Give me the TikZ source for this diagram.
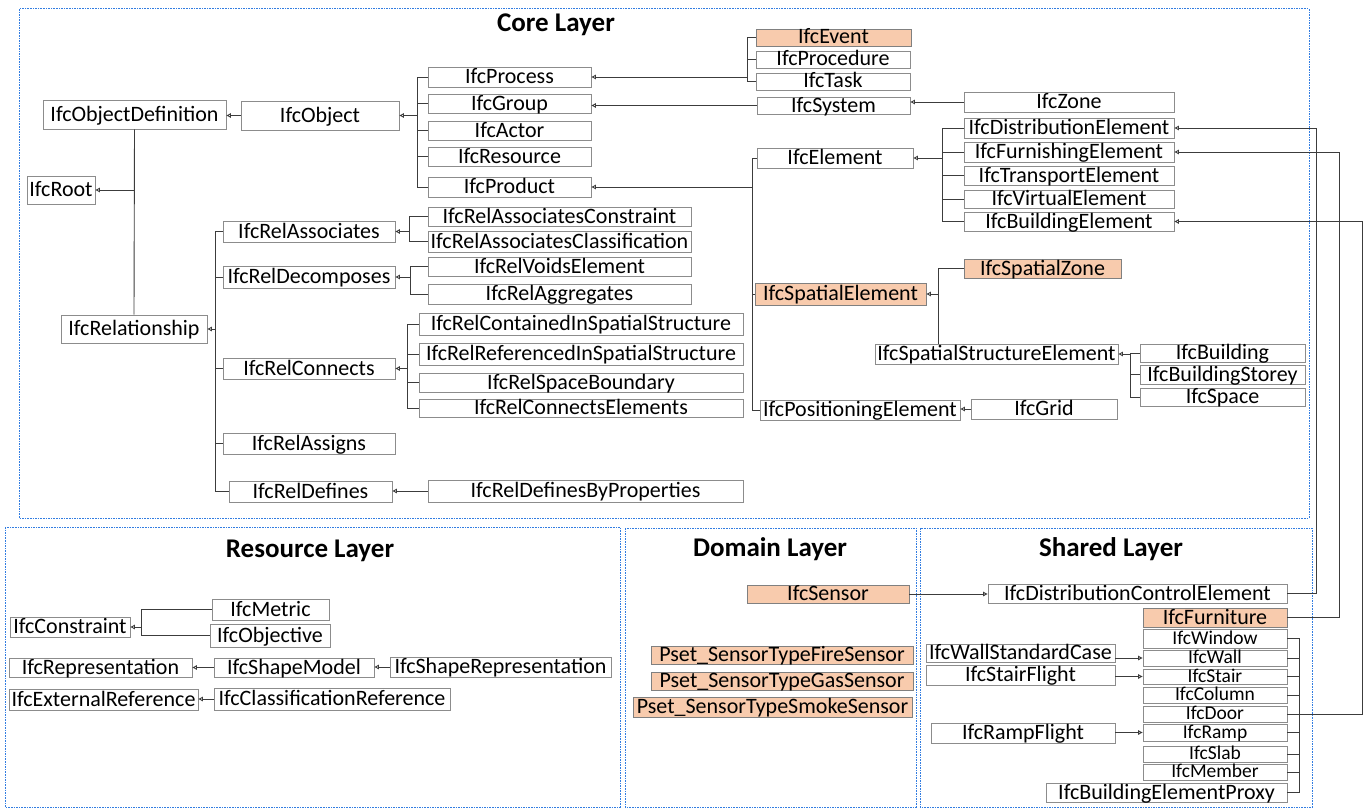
\documentclass[tikz,border=0pt]{standalone}
\usepackage{fontspec}
\setmainfont{Carlito}
\usetikzlibrary{arrows.meta}
\definecolor{peach}{RGB}{248,203,173}
\definecolor{boxgray}{RGB}{140,140,140}
\definecolor{linegray}{RGB}{60,60,60}
\definecolor{layerblue}{RGB}{50,125,225}
\tikzset{
  ifc/.style={draw=boxgray, line width=0.8pt, fill=white, inner sep=0pt,
    text height=14pt, text depth=1pt, font=\fontsize{22}{22}\selectfont},
  tight/.style={font=\fontsize{19.5}{20}\selectfont, text height=12pt},
  hot/.style={fill=peach, draw=gray},
  link/.style={draw=linegray, line width=0.9pt},
  isa/.style={link, -{Triangle[open,length=4.5pt,width=4.5pt]}},
  layer/.style={draw=layerblue, line width=1pt, dash pattern=on 1.6pt off 1pt},
  title/.style={font=\bfseries\fontsize{27}{30}\selectfont}
}
% box from its corners: [style]{name}{left}{top}{right}{bottom}{text}
\newcommand{\ifcbox}[7][]{%
  \pgfmathsetmacro{\ifcw}{#5-#3}\pgfmathsetmacro{\ifch}{#6-#4}%
  \node[ifc,#1,minimum width=\ifcw pt,minimum height=\ifch pt] (#2)
    at ({(#3+#5)/2},{(#4+#6)/2}) {#7};}

\begin{document}
\begin{tikzpicture}[x=1pt,y=-1pt]
\useasboundingbox (0,0) rectangle (1367,808);
% layers
\draw[layer] (19,9) rectangle (1309,518);
\draw[layer] (5,527) rectangle (620,807);
\draw[layer] (625,528) rectangle (916,807);
\draw[layer] (920,528) rectangle (1312,807);
\node[title] (tcore) at (556,25) {Core Layer};
\node[title] (tres) at (310,551) {Resource Layer};
\node[title] (tdom) at (770,549) {Domain Layer};
\node[title] (tsha) at (1111,549) {Shared Layer};

% core layer
\ifcbox{objdef}{43}{100}{226}{129}{IfcObjectDefinition}
\ifcbox{obj}{241}{101}{399}{130}{IfcObject}
\ifcbox{root}{27}{176}{95}{204}{IfcRoot}
\ifcbox{rel}{61}{315}{207}{343}{IfcRelationship}
\ifcbox{process}{428}{67}{591}{87}{IfcProcess}
\ifcbox{group}{428}{94}{591}{113}{IfcGroup}
\ifcbox{actor}{428}{121}{591}{140}{IfcActor}
\ifcbox{resource}{428}{147}{591}{166}{IfcResource}
\ifcbox{product}{428}{177}{591}{197}{IfcProduct}
\ifcbox[hot]{event}{756}{29}{911}{46}{IfcEvent}
\ifcbox{procedure}{756}{51}{910}{68}{IfcProcedure}
\ifcbox{task}{756}{73}{910}{90}{IfcTask}
\ifcbox{system}{757}{97}{910}{114}{IfcSystem}
\ifcbox{zone}{964}{92}{1174}{112}{IfcZone}
\ifcbox{element}{757}{148}{913}{168}{IfcElement}
\ifcbox{distel}{964}{118}{1174}{138}{IfcDistributionElement}
\ifcbox{furnel}{964}{142}{1174}{162}{IfcFurnishingElement}
\ifcbox{transel}{964}{166}{1174}{185}{IfcTransportElement}
\ifcbox{virtel}{964}{190}{1174}{208}{IfcVirtualElement}
\ifcbox{bldel}{964}{212}{1174}{231}{IfcBuildingElement}
\ifcbox[hot]{spzone}{964}{259}{1121}{278}{IfcSpatialZone}
\ifcbox[hot]{spel}{755}{283}{926}{305}{IfcSpatialElement}
\ifcbox{sse}{875}{344}{1118}{364}{IfcSpatialStructureElement}
\ifcbox{building}{1140}{344}{1305}{362}{IfcBuilding}
\ifcbox{storey}{1140}{365}{1305}{384}{IfcBuildingStorey}
\ifcbox{space}{1140}{388}{1305}{406}{IfcSpace}
\ifcbox{posel}{760}{400}{960}{420}{IfcPositioningElement}
\ifcbox{grid}{971}{399}{1117}{419}{IfcGrid}
\ifcbox{relassoc}{223}{221}{395}{242}{IfcRelAssociates}
\ifcbox{reldecomp}{223}{266}{395}{288}{IfcRelDecomposes}
\ifcbox{relconn}{223}{358}{395}{379}{IfcRelConnects}
\ifcbox{relassign}{223}{433}{395}{454}{IfcRelAssigns}
\ifcbox{reldef}{229}{481}{392}{502}{IfcRelDefines}
\ifcbox{rac}{428}{207}{691}{226}{IfcRelAssociatesConstraint}
\ifcbox{racl}{428}{231}{691}{252}{IfcRelAssociatesClassification}
\ifcbox{rve}{428}{257}{691}{276}{IfcRelVoidsElement}
\ifcbox{rag}{428}{284}{691}{304}{IfcRelAggregates}
\ifcbox{rcis}{419}{313}{743}{335}{IfcRelContainedInSpatialStructure}
\ifcbox{rris}{419}{343}{743}{365}{IfcRelReferencedInSpatialStructure}
\ifcbox{rsb}{419}{373}{743}{392}{IfcRelSpaceBoundary}
\ifcbox{rce}{419}{399}{743}{417}{IfcRelConnectsElements}
\ifcbox{rdbp}{428}{480}{743}{502}{IfcRelDefinesByProperties}

% resource layer
\ifcbox{constraint}{10}{617}{130}{637}{IfcConstraint}
\ifcbox{metric}{212}{599}{329}{620}{IfcMetric}
\ifcbox{objective}{210}{624}{330}{647}{IfcObjective}
\ifcbox{repr}{9}{658}{192}{677}{IfcRepresentation}
\ifcbox{shapemodel}{214}{658}{374}{677}{IfcShapeModel}
\ifcbox{shaperep}{390}{657}{611}{677}{IfcShapeRepresentation}
\ifcbox{extref}{9}{689}{198}{710}{IfcExternalReference}
\ifcbox{classref}{214}{688}{450}{710}{IfcClassificationReference}

% domain layer
\ifcbox[hot]{sensor}{747}{585}{909}{603}{IfcSensor}
\ifcbox[hot]{psfire}{651}{646}{913}{664}{Pset\_SensorTypeFireSensor}
\ifcbox[hot]{psgas}{651}{672}{913}{690}{Pset\_SensorTypeGasSensor}
\ifcbox[hot]{pssmoke}{633}{697}{912}{717}{Pset\_SensorTypeSmokeSensor}

% shared layer
\ifcbox{dce}{988}{584}{1287}{603}{IfcDistributionControlElement}
\ifcbox[hot]{furniture}{1143}{608}{1287}{627}{IfcFurniture}
\ifcbox[tight]{window}{1143}{629}{1287}{648}{IfcWindow}
\ifcbox[tight]{wall}{1143}{650}{1287}{666}{IfcWall}
\ifcbox[tight]{stair}{1143}{669}{1287}{684}{IfcStair}
\ifcbox[tight]{column}{1143}{687}{1287}{703}{IfcColumn}
\ifcbox[tight]{door}{1143}{706}{1287}{722}{IfcDoor}
\ifcbox[tight]{ramp}{1143}{724}{1287}{741}{IfcRamp}
\ifcbox[tight]{slab}{1143}{746}{1287}{762}{IfcSlab}
\ifcbox[tight]{member}{1143}{764}{1287}{780}{IfcMember}
\ifcbox{proxy}{1046}{783}{1287}{802}{IfcBuildingElementProxy}
\ifcbox{wsc}{926}{644}{1115}{662}{IfcWallStandardCase}
\ifcbox{stairfl}{926}{665}{1115}{685}{IfcStairFlight}
\ifcbox{rampfl}{931}{723}{1115}{743}{IfcRampFlight}

% junctions
\path (obj.east) ++(18,0) coordinate (jObj);
\path (process.east) ++(156,0) coordinate (jProc);
\path (product.east) ++(161,0) coordinate (jProd);
\path (element.east) ++(29,0) coordinate (jElem);
\path (spel.east) ++(12,0) coordinate (jSpat);
\path (sse.east) ++(12,0) coordinate (jSSE);
\path (rel.east) ++(8,0) coordinate (jRel);
\path (relassoc.east) ++(14,0) coordinate (jAssoc);
\path (reldecomp.east) ++(15,0) coordinate (jDecomp);
\path (relconn.east) ++(12,0) coordinate (jConn);
\path (constraint.east) ++(11,0) coordinate (jCons);
\path (door.east) ++(12,0) coordinate (jBE);

% inheritance lines
\draw[link] (objdef.south) -- (rel.north);
\draw[isa] (objdef.south |- root.east) -- (root.east);
\draw[isa] (obj.west) -- (obj.west -| objdef.east);
\foreach \c in {process,group,actor,resource,product}
  \draw[link] (\c.west) -| (jObj);
\draw[isa] (jObj) -- (obj.east);
\foreach \c in {event,procedure,task}
  \draw[link] (\c.west) -| (jProc);
\draw[isa] (jProc) -- (process.east);
\draw[isa] (system.west) -- (system.west -| group.east);
\draw[isa] (zone.west) -- (zone.west -| system.east);
\foreach \c in {element,spel,posel}
  \draw[link] (\c.west) -| (jProd);
\draw[isa] (jProd) -- (product.east);
\foreach \c in {distel,furnel,transel,virtel,bldel}
  \draw[link] (\c.west) -| (jElem);
\draw[isa] (jElem) -- (element.east);
\draw[link] (spzone.west) -| (jSpat);
\draw[link] (jSpat) -- (jSpat |- sse.north);
\draw[isa] (jSpat) -- (spel.east);
\foreach \c in {building,storey,space}
  \draw[link] (\c.west) -| (jSSE);
\draw[isa] (jSSE) -- (sse.east);
\draw[isa] (grid.west) -- (grid.west -| posel.east);
\foreach \c in {relassoc,reldecomp,relconn,relassign,reldef}
  \draw[link] (\c.west) -| (jRel);
\draw[isa] (jRel) -- (rel.east);
\foreach \c in {rac,racl}
  \draw[link] (\c.west) -| (jAssoc);
\draw[isa] (jAssoc) -- (relassoc.east);
\foreach \c in {rve,rag}
  \draw[link] (\c.west) -| (jDecomp);
\draw[isa] (jDecomp) -- (reldecomp.east);
\foreach \c in {rcis,rris,rsb,rce}
  \draw[link] (\c.west) -| (jConn);
\draw[isa] (jConn) -- (relconn.east);
\draw[isa] (rdbp.west) -- (rdbp.west -| reldef.east);

% resource
\foreach \c in {metric,objective}
  \draw[link] (\c.west) -| (jCons);
\draw[isa] (jCons) -- (constraint.east);
\draw[isa] (shapemodel.west) -- (shapemodel.west -| repr.east);
\draw[isa] (shaperep.west) -- (shaperep.west -| shapemodel.east);
\draw[isa] (classref.west) -- (classref.west -| extref.east);

% domain / shared
\draw[isa] (sensor.east) -- (sensor.east -| dce.west);
\draw[isa] (wall.west -| wsc.east) -- (wall.west);
\draw[isa] (stair.west -| stairfl.east) -- (stair.west);
\draw[isa] (ramp.west -| rampfl.east) -- (ramp.west);
\foreach \c in {window,wall,stair,column,door,ramp,slab,member,proxy}
  \draw[link] (\c.east) -| (jBE);
\draw[isa] (dce.east) -- (dce.east -| 1316,0) |- (distel.east);
\draw[isa] (furniture.east) -- (furniture.east -| 1339,0) |- (furnel.east);
\draw[isa] (jBE) -- (jBE -| 1362,0) |- (bldel.east);
\end{tikzpicture}
\end{document}
